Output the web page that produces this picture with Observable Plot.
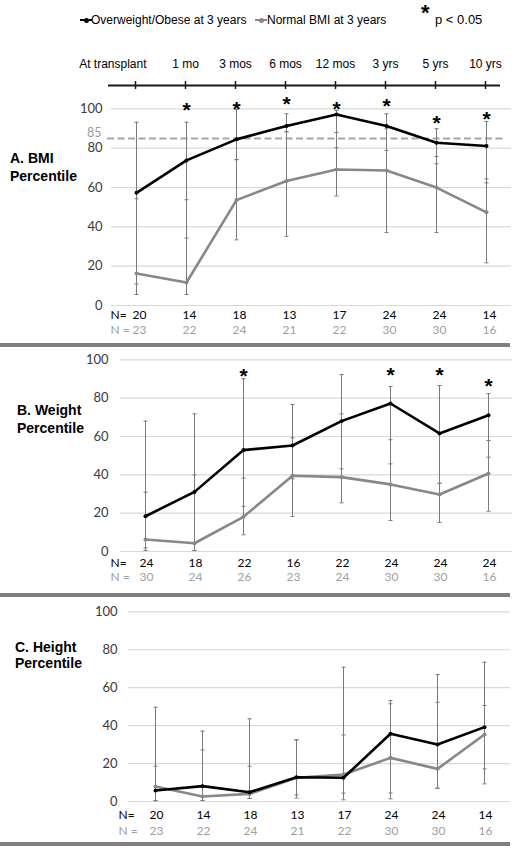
<!DOCTYPE html>
<html><head><meta charset="utf-8">
<script src="https://cdn.jsdelivr.net/npm/d3@7"></script>
<script src="https://cdn.jsdelivr.net/npm/@observablehq/plot@0.6"></script>
<style>
body{margin:0;background:#fff;}
#page{position:relative;width:518px;height:848px;overflow:hidden;font-family:"Liberation Sans",Arial,sans-serif;color:#000;}
.abs{position:absolute;white-space:nowrap;}
.sep{position:absolute;left:5px;width:510px;background:#7f7f7f;}
.plab{position:absolute;font-weight:bold;font-size:14px;line-height:18px;}
.sw{position:absolute;height:2px;width:12px;}
.sw i{position:absolute;left:4px;top:-1.5px;width:5px;height:5px;border-radius:50%;}
svg{overflow:visible;}
</style></head><body><div id="page"></div>
<script>
// ---------- data ----------
const times = ["At transplant","1 mo","3 mos","6 mos","12 mos","3 yrs","5 yrs","10 yrs"];
const yTicks = [0,20,40,60,80,100];
const seriesNames = ["Overweight/Obese at 3 years","Normal BMI at 3 years"];

// A. BMI percentile
const bmiObese   = [57.3, 73.8, 84.5, 91.3, 97.1, 91.3, 82.8, 81.1];
const bmiNormal  = [16.3, 11.7, 53.6, 63.3, 69.2, 68.7, 60.0, 47.4];
const bmiObeseLo = [11.0, 34.3, 74.2, 88.4, 80.3, 78.9, 72.1, 62.4];
const bmiObeseHi = [93.2, 93.2, 99.7, 97.5, 99.2, 97.5, 89.9, 93.6];
const bmiNormalLo= [5.6, 5.6, 33.4, 35.2, 55.7, 37.1, 37.1, 21.7];
const bmiNormalHi= [54.3, 53.8, 74.2, 88.4, 88.0, 89.9, 75.8, 64.4];
const bmiSig     = [null, 101.7, 102.6, 104.8, 102.6, 103.9, 95.3, 97.5];
const bmiNObese  = [20, 14, 18, 13, 17, 24, 24, 14];
const bmiNNormal = [23, 22, 24, 21, 22, 30, 30, 16];
const bmiThreshold = 85;

// B. Weight percentile
const wtObese    = [18.4, 31.1, 52.9, 55.3, 68.0, 77.2, 61.6, 71.1];
const wtNormal   = [6.3, 4.3, 18.1, 39.5, 38.8, 35.0, 29.7, 40.7];
const wtObeseLo  = [0.5, 0.5, 23.6, 37.9, 43.1, 45.7, 35.6, 49.2];
const wtObeseHi  = [68.0, 71.8, 90.1, 76.7, 92.3, 86.1, 86.6, 82.3];
const wtNormalLo = [1.9, 0.5, 8.7, 18.3, 25.4, 16.2, 15.1, 21.0];
const wtNormalHi = [30.9, 40.0, 38.3, 59.3, 71.8, 58.3, 35.6, 57.9];
const wtSig      = [null, null, 94.1, null, null, 94.8, 94.8, 88.7];
const wtNObese   = [24, 18, 22, 16, 22, 24, 24, 24];
const wtNNormal  = [30, 24, 26, 23, 24, 30, 30, 16];

// C. Height percentile
const htObese    = [5.8, 8.1, 4.9, 12.8, 12.5, 35.7, 30.0, 39.2];
const htNormal   = [7.9, 2.6, 4.0, 12.5, 14.2, 23.0, 17.2, 35.3];
const htObeseLo  = [0.4, 0.5, 1.6, 1.8, 0.9, 1.4, 7.0, 9.3];
const htObeseHi  = [18.6, 27.2, 18.6, 32.5, 35.1, 53.2, 52.3, 73.4];
const htNormalLo = [0.4, 0.5, 1.6, 3.5, 4.4, 4.5, 7.0, 17.2];
const htNormalHi = [49.7, 37.1, 43.6, 32.5, 70.8, 51.5, 66.9, 50.6];
const htSig      = [null, null, null, null, null, null, null, null];
const htNObese   = [20, 14, 18, 13, 17, 24, 24, 14];
const htNNormal  = [23, 22, 24, 21, 22, 30, 30, 16];

// ---------- styles ----------
const BLACK = "#000000", GRAY = "#888888", ERR = "#7a7a7a", GRID = "#d9d9d9";
const capSymbol = {draw(ctx, size){ const r = Math.sqrt(size / Math.PI); ctx.moveTo(-r, 0); ctx.lineTo(r, 0); }};

const page = document.getElementById("page");
function place(node, left, top){ node.style.position = "absolute"; node.style.left = left + "px"; node.style.top = top + "px"; page.appendChild(node); return node; }
function html(s, left, top, cls){ const d = document.createElement("div"); d.className = cls || "abs"; d.innerHTML = s; return place(d, left, top); }

// ---------- legend ----------
const sw1 = html("<i style='background:"+BLACK+"'></i>", 80, 19, "sw"); sw1.style.background = BLACK;
html(seriesNames[0], 91, 13).style.fontSize = "12px";
const sw2 = html("<i style='background:"+GRAY+"'></i>", 255, 19, "sw"); sw2.style.background = GRAY;
html(seriesNames[1], 267, 13).style.fontSize = "12px";
const star = html("*", 421, 0); star.style.fontSize = "22px"; star.style.fontWeight = "bold";
html("p &lt; 0.05", 435, 12).style.fontSize = "13px";

// ---------- timeline ----------
const idx = d3.range(times.length);
const timeline = Plot.plot({
  width: 518, height: 50, marginTop: 36, marginBottom: 6, marginLeft: 108, marginRight: 6,
  style: {fontFamily: "Liberation Sans, Arial, sans-serif", fontSize: "12px", background: "transparent", color: "#000"},
  x: {type: "point", domain: times, padding: 0.495, axis: null},
  y: {domain: [-1, 1], axis: null},
  marks: [
    Plot.ruleY([0], {stroke: "#1a1a1a", strokeWidth: 2, insetRight: 12}),
    Plot.ruleX(times, {x: d => d, stroke: "#1a1a1a", strokeWidth: 1.5}),
    Plot.text(times.slice(0, 1), {x: d => d, text: d => d, frameAnchor: "top", dy: -22, dx: 11, textAnchor: "end", fill: "#000"}),
    Plot.text(times.slice(1), {x: d => d, text: d => d, frameAnchor: "top", dy: -22, fill: "#000"})
  ]
});
place(timeline, 0, 45);

// ---------- panels ----------
function panel(o){
  const xOf = i => times[i];
  const NF = 12;
  const marks = [
    Plot.ruleY(yTicks, {stroke: GRID, strokeWidth: 1.2}),
    Plot.axisY(yTicks, {tickSize: 0, tickPadding: o.tickPad, label: null, fontSize: 13})
  ];
  if (o.threshold != null) {
    marks.push(Plot.ruleY([o.threshold], {stroke: "#a6a6a6", strokeWidth: 2, strokeDasharray: "7,3.5", dx: -4, insetRight: 4}));
    marks.push(Plot.text([o.threshold], {y: d => d, text: d => String(d), frameAnchor: "left", textAnchor: "end", dx: -10, dy: -5.5, fill: "#9a9a9a", fontSize: 12.5}));
  }
  marks.push(
    Plot.ruleX(idx, {x: xOf, y1: i => o.obLo[i], y2: i => o.obHi[i], stroke: ERR, strokeWidth: 1}),
    Plot.ruleX(idx, {x: xOf, y1: i => o.noLo[i], y2: i => o.noHi[i], stroke: ERR, strokeWidth: 1}),
    Plot.dot(idx, {x: xOf, y: i => o.obLo[i], symbol: capSymbol, r: 2, stroke: ERR, strokeWidth: 1}),
    Plot.dot(idx, {x: xOf, y: i => o.obHi[i], symbol: capSymbol, r: 2, stroke: ERR, strokeWidth: 1}),
    Plot.dot(idx, {x: xOf, y: i => o.noLo[i], symbol: capSymbol, r: 2, stroke: ERR, strokeWidth: 1}),
    Plot.dot(idx, {x: xOf, y: i => o.noHi[i], symbol: capSymbol, r: 2, stroke: ERR, strokeWidth: 1}),
    Plot.line(idx, {x: xOf, y: i => o.normal[i], stroke: GRAY, strokeWidth: 2.6}),
    Plot.dot(idx, {x: xOf, y: i => o.normal[i], r: 2, fill: GRAY}),
    Plot.line(idx, {x: xOf, y: i => o.obese[i], stroke: BLACK, strokeWidth: 2.6}),
    Plot.dot(idx, {x: xOf, y: i => o.obese[i], r: 2, fill: BLACK}),
    Plot.text(idx.filter(i => o.sig[i] != null), {x: xOf, y: i => o.sig[i], text: () => "*", fontSize: 21, fontWeight: "bold", fontFamily: "Liberation Sans, Arial, sans-serif", dy: 5, fill: "#000"}),
    Plot.text(["N="], {frameAnchor: "bottom-left", textAnchor: "start", dx: o.nDx, dy: o.nDy1, text: d => d, fill: "#000", fontSize: NF}),
    Plot.text(["N ="], {frameAnchor: "bottom-left", textAnchor: "start", dx: o.nDx, dy: o.nDy2, text: d => d, fill: "#a0a0a0", fontSize: NF}),
    Plot.text(idx, {x: xOf, frameAnchor: "bottom", dy: o.nDy1, dx: o.nValDx, text: i => String(o.nOb[i]), fill: "#000", fontSize: NF}),
    Plot.text(idx, {x: xOf, frameAnchor: "bottom", dy: o.nDy2, dx: o.nValDx, text: i => String(o.nNo[i]), fill: "#a0a0a0", fontSize: NF})
  );
  return Plot.plot({
    width: 518, height: o.height, marginTop: o.mt, marginBottom: o.mb, marginLeft: o.ml, marginRight: o.mr,
    style: {fontFamily: "Lato, 'Open Sans', sans-serif", fontSize: "13px", background: "transparent", color: "#3a3a3a"},
    x: {type: "point", domain: times, padding: o.pad, axis: null},
    y: {domain: [0, 100], axis: null},
    marks
  });
}

place(panel({obese: bmiObese, normal: bmiNormal, obLo: bmiObeseLo, obHi: bmiObeseHi, noLo: bmiNormalLo, noHi: bmiNormalHi,
  sig: bmiSig, nOb: bmiNObese, nNo: bmiNNormal, threshold: bmiThreshold,
  height: 250, mt: 16.4, mb: 37, ml: 111, mr: 7, pad: 0.47, tickPad: 9, nDy1: 13, nDy2: 28, nDx: -1, nValDx: 3}), 0, 92);
html("A. BMI<br>Percentile", 10, 149, "plab");
html("", 0, 343, "sep").style.height = "4px";

place(panel({obese: wtObese, normal: wtNormal, obLo: wtObeseLo, obHi: wtObeseHi, noLo: wtNormalLo, noHi: wtNormalHi,
  sig: wtSig, nOb: wtNObese, nNo: wtNNormal, threshold: null,
  height: 243, mt: 9.3, mb: 42, ml: 120, mr: 6, pad: 0.457, tickPad: 12, nDy1: 15, nDy2: 29.5, nDx: -10, nValDx: 1}), 0, 350);
html("B. Weight<br>Percentile", 17, 401, "plab");
html("", 0, 593, "sep").style.height = "4px";

place(panel({obese: htObese, normal: htNormal, obLo: htObeseLo, obHi: htObeseHi, noLo: htNormalLo, noHi: htNormalHi,
  sig: htSig, nOb: htNObese, nNo: htNNormal, threshold: null,
  height: 242, mt: 11.3, mb: 41, ml: 128, mr: 8, pad: 0.49, tickPad: 11, nDy1: 17, nDy2: 33, nDx: -10, nValDx: 1}), 0, 600);
const cl = html("C. Height<br>Percentile", 15, 639, "plab"); cl.style.lineHeight = "16px";
html("", 0, 842, "sep").style.height = "3.5px";
</script>
</body></html>
